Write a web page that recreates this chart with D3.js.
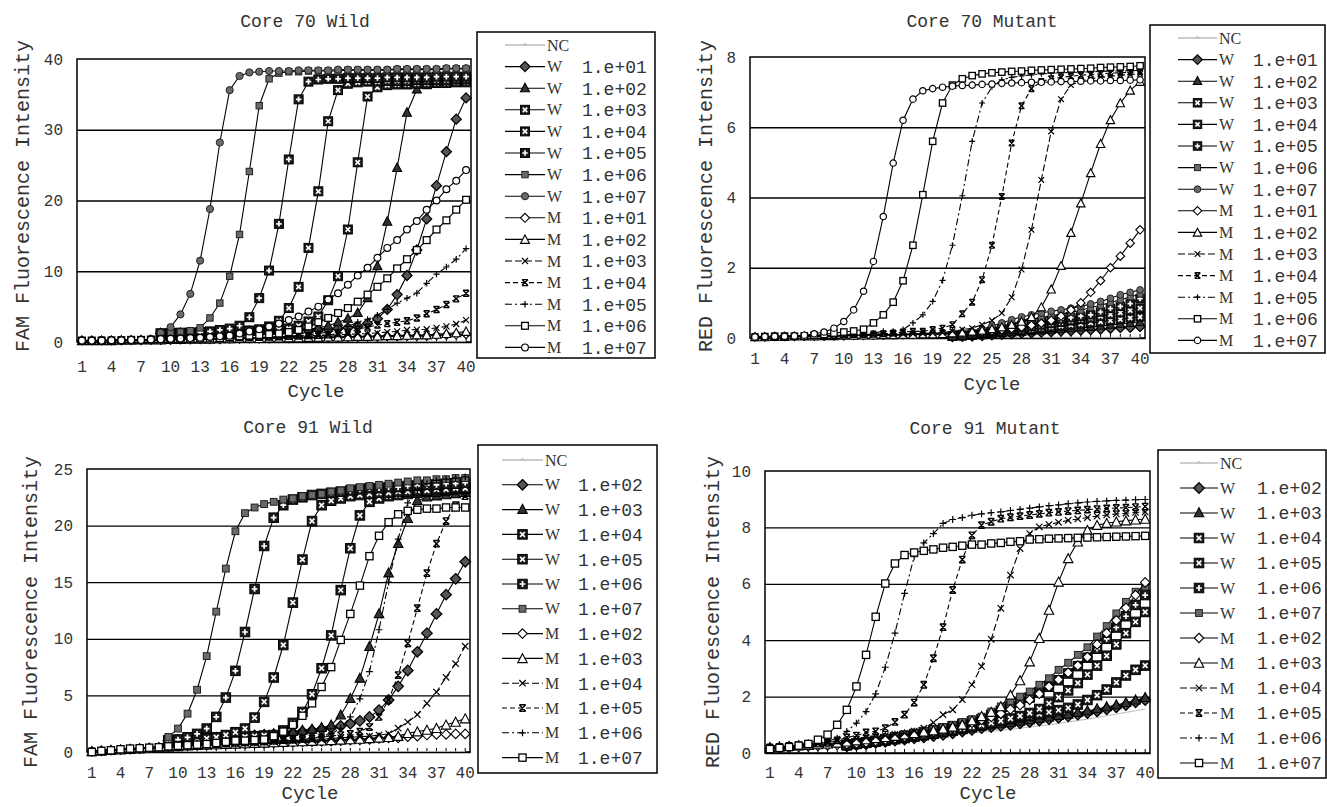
<!DOCTYPE html>
<html lang="en">
<head>
<meta charset="utf-8">
<title>Core 70 / Core 91 amplification curves</title>
<script src="https://cdn.jsdelivr.net/npm/d3@7"></script>
<style>
  body { margin: 0; background: #fff; }
  svg { display: block; }
</style>
</head>
<body>
<script>
var n = null;
var MONO = "'Liberation Mono', 'DejaVu Sans Mono', monospace";
var SERIF = "'Liberation Serif', 'DejaVu Serif', serif";

var cycles = [1,2,3,4,5,6,7,8,9,10,11,12,13,14,15,16,17,18,19,20,
              21,22,23,24,25,26,27,28,29,30,31,32,33,34,35,36,37,38,39,40];
var cycleLabels = [1,4,7,10,13,16,19,22,25,28,31,34,37,40];

var ticksA = [0,10,20,30,40];
var ticksB = [0,2,4,6,8];
var ticksC = [0,5,10,15,20,25];
var ticksD = [0,2,4,6,8,10];

// legend rows
var groups70 = ["NC","W","W","W","W","W","W","W","M","M","M","M","M","M","M"];
var values70 = ["","1.e+01","1.e+02","1.e+03","1.e+04","1.e+05","1.e+06","1.e+07",
                "1.e+01","1.e+02","1.e+03","1.e+04","1.e+05","1.e+06","1.e+07"];
var markers70 = ["nc","fdia","ftri","sqx","sqx","sqp","gsq","gcir","odia","otri","x","star","plus","osq","ocir"];
var groups91 = ["NC","W","W","W","W","W","W","M","M","M","M","M","M"];
var values91 = ["","1.e+02","1.e+03","1.e+04","1.e+05","1.e+06","1.e+07",
                "1.e+02","1.e+03","1.e+04","1.e+05","1.e+06","1.e+07"];
var markers91 = ["nc","fdia","ftri","sqx","sqx","sqp","gsq","odia","otri","x","star","plus","osq"];

// ---- Core 70 Wild (FAM) ----
var a_nc = [0.1,0.1,0.1,0.1,0.1,0.1,0.1,0.1,0.1,0.1,0.1,0.1,0.1,0.1,0.1,0.1,0.1,0.1,0.1,0.1,
            0.1,0.1,0.1,0.1,0.1,0.1,0.1,0.1,0.1,0.1,0.1,0.1,0.1,0.1,0.1,0.1,0.1,0.1,0.1,0.1];
var a_w01 = [n,n,n,n,n,n,n,n,1.2,1.2,
  1.25,1.3,1.3,1.35,1.4,1.4,1.45,1.5,1.5,1.55,
  1.6,1.6,1.65,1.7,1.75,1.8,1.9,2.0,2.2,2.6,
  3.3,4.6,6.7,9.4,13.0,17.4,22.1,26.9,31.5,34.5];
var a_w02 = [n,n,n,n,n,n,n,n,1.2,1.2,
  1.25,1.3,1.3,1.35,1.4,1.45,1.5,1.5,1.55,1.6,
  1.65,1.7,1.75,1.8,2.0,2.3,2.8,3.3,4.1,6.2,
  10.7,17.0,24.6,32.4,35.7,36.3,36.5,36.6,36.7,36.8];
var a_w03 = [n,n,n,n,n,n,n,n,1.2,1.25,
  1.3,1.3,1.35,1.4,1.45,1.5,1.55,1.6,1.65,1.7,
  1.8,1.9,2.3,2.9,3.6,5.9,9.3,15.9,25.4,34.7,
  36.0,36.3,36.4,36.4,36.5,36.5,36.6,36.6,36.7,36.7];
var a_w04 = [n,n,n,n,n,n,n,n,1.2,1.2,
  1.25,1.3,1.3,1.35,1.4,1.45,1.5,1.6,1.8,2.2,
  3.0,4.8,7.8,13.3,21.3,31.2,35.6,36.5,36.7,36.8,
  36.8,36.9,36.9,36.9,37.0,37.0,37.0,37.0,37.1,37.1];
var a_w05 = [n,n,n,n,n,n,n,n,1.2,1.2,
  1.3,1.3,1.4,1.5,1.7,1.9,2.3,3.5,6.2,10.1,
  16.7,25.8,34.3,36.8,37.1,37.2,37.2,37.3,37.3,37.3,
  37.3,37.4,37.4,37.4,37.4,37.4,37.5,37.5,37.5,37.5];
var a_w06 = [n,n,n,n,n,n,n,n,1.2,1.3,
  1.4,1.6,2.0,3.4,5.5,9.3,15.2,24.1,33.4,37.2,
  38.0,38.2,38.2,38.3,38.3,38.3,38.3,38.4,38.4,38.4,
  38.4,38.4,38.5,38.5,38.5,38.5,38.5,38.6,38.6,38.6];
var a_w07 = [n,n,n,n,n,n,n,n,1.3,2.1,
  3.9,6.8,11.5,18.8,28.2,35.6,37.6,38.1,38.2,38.3,
  38.3,38.3,38.4,38.4,38.4,38.4,38.5,38.5,38.5,38.5,
  38.5,38.5,38.6,38.6,38.6,38.6,38.6,38.7,38.7,38.7];
var a_m01 = [0.2,0.2,0.2,0.2,0.2,0.25,0.25,0.3,0.3,0.3,
  0.35,0.35,0.4,0.4,0.4,0.45,0.45,0.5,0.5,0.5,
  0.55,0.55,0.6,0.6,0.6,0.65,0.65,0.7,0.7,0.75,
  0.75,0.8,0.8,0.85,0.85,0.9,0.95,1.0,1.05,1.1];
var a_m02 = [0.2,0.2,0.2,0.2,0.25,0.25,0.3,0.3,0.3,0.35,
  0.35,0.4,0.4,0.4,0.45,0.45,0.5,0.5,0.5,0.55,
  0.55,0.6,0.6,0.65,0.65,0.7,0.7,0.75,0.8,0.8,
  0.85,0.9,0.9,0.95,1.0,1.0,1.1,1.2,1.3,1.5];
var a_m03 = [0.2,0.2,0.2,0.25,0.25,0.3,0.3,0.3,0.35,0.35,
  0.4,0.4,0.45,0.45,0.5,0.5,0.55,0.6,0.6,0.65,
  0.7,0.75,0.8,0.85,0.9,0.95,1.0,1.1,1.15,1.2,
  1.3,1.4,1.5,1.7,1.75,1.8,2.0,2.2,2.55,3.1];
var a_m04 = [0.2,0.2,0.25,0.25,0.3,0.3,0.3,0.35,0.35,0.4,
  0.4,0.45,0.45,0.5,0.5,0.55,0.6,0.6,0.65,0.7,
  0.75,0.8,0.85,0.9,0.95,1.0,1.2,1.4,1.8,2.1,
  2.4,2.6,2.8,3.0,3.4,4.0,4.6,5.3,6.1,6.9];
var a_m05 = [0.2,0.2,0.25,0.25,0.3,0.3,0.35,0.35,0.4,0.4,
  0.45,0.45,0.5,0.5,0.55,0.55,0.6,0.6,0.65,0.7,
  0.75,0.8,0.9,1.0,1.2,1.4,1.7,2.2,2.8,3.2,
  3.8,4.6,5.5,6.2,6.9,8.3,9.6,10.6,11.7,13.2];
var a_m06 = [0.2,0.2,0.2,0.2,0.25,0.3,0.3,0.35,0.4,0.4,
  0.45,0.45,0.5,0.5,0.55,0.7,0.8,0.9,1.0,1.1,
  1.2,1.4,1.7,2.2,2.8,3.4,4.1,4.8,5.7,6.7,
  7.8,9.0,10.4,11.7,13.0,14.4,15.9,17.2,18.7,20.1];
var a_m07 = [0.2,0.2,0.2,0.25,0.25,0.3,0.3,0.35,0.4,0.45,
  0.5,0.55,0.6,0.7,0.8,0.9,1.2,1.5,1.8,2.2,
  2.6,3.1,3.6,4.3,5.0,6.0,6.9,8.1,9.4,10.5,
  11.9,13.3,14.4,15.9,17.1,18.7,20.0,21.6,22.8,24.3];

// ---- Core 70 Mutant (RED) ----
var b_nc = [0.02,0.02,0.02,0.02,0.02,0.02,0.02,0.02,0.02,0.02,0.02,0.02,0.02,0.02,0.02,0.02,0.02,0.02,0.02,0.02,
            0.02,0.02,0.02,0.02,0.02,0.02,0.02,0.02,0.02,0.02,0.02,0.02,0.02,0.02,0.02,0.02,0.02,0.02,0.02,0.02];
var b_w01 = [n,n,n,n,n,n,n,n,n,n,n,n,n,n,n,n,n,n,n,n,
  0.03,0.04,0.05,0.06,0.08,0.1,0.11,0.13,0.14,0.16,
  0.17,0.19,0.2,0.22,0.23,0.25,0.27,0.29,0.3,0.32];
var b_w02 = [n,n,n,n,n,n,n,n,n,n,n,n,n,n,n,n,n,n,n,n,
  0.04,0.05,0.07,0.09,0.11,0.13,0.15,0.17,0.19,0.21,
  0.23,0.25,0.27,0.29,0.31,0.34,0.37,0.4,0.42,0.45];
var b_w03 = [n,n,n,n,n,n,n,n,n,n,n,n,n,n,n,n,n,n,n,n,
  0.05,0.06,0.08,0.1,0.13,0.16,0.19,0.22,0.25,0.28,
  0.31,0.34,0.37,0.4,0.43,0.46,0.5,0.53,0.57,0.6];
var b_w04 = [n,n,n,n,n,n,n,n,n,n,n,n,n,n,n,n,n,n,n,n,
  0.05,0.07,0.1,0.13,0.17,0.21,0.25,0.29,0.33,0.37,
  0.41,0.45,0.49,0.53,0.57,0.62,0.67,0.72,0.78,0.85];
var b_w05 = [n,n,n,n,n,n,n,n,n,n,n,n,n,n,n,n,n,n,n,n,
  0.06,0.08,0.11,0.15,0.2,0.26,0.31,0.36,0.41,0.46,
  0.5,0.54,0.58,0.62,0.66,0.74,0.84,0.9,0.98,1.12];
var b_w06 = [n,n,n,n,n,n,n,n,n,n,n,n,n,n,n,n,n,n,n,n,
  0.06,0.09,0.13,0.19,0.26,0.33,0.4,0.47,0.53,0.58,
  0.63,0.68,0.73,0.79,0.86,0.93,1.01,1.09,1.17,1.25];
var b_w07 = [n,n,n,n,n,n,n,n,n,n,n,n,n,n,n,n,n,n,n,n,
  0.08,0.1,0.17,0.25,0.34,0.43,0.52,0.6,0.66,0.71,
  0.76,0.8,0.85,0.9,0.97,1.04,1.13,1.23,1.3,1.37];
var b_m01 = [0.03,0.03,0.04,0.04,0.04,0.05,0.05,0.05,0.06,0.06,
  0.07,0.07,0.08,0.08,0.09,0.09,0.1,0.1,0.11,0.12,
  0.13,0.14,0.16,0.18,0.2,0.23,0.27,0.31,0.36,0.42,
  0.5,0.62,0.8,1.0,1.3,1.63,2.0,2.33,2.7,3.08];
var b_m02 = [0.03,0.03,0.04,0.04,0.05,0.05,0.05,0.06,0.06,0.07,
  0.07,0.08,0.08,0.09,0.09,0.1,0.1,0.11,0.11,0.12,
  0.14,0.16,0.19,0.22,0.26,0.31,0.38,0.47,0.6,0.88,
  1.39,2.06,3.0,3.84,4.7,5.53,6.21,6.69,7.05,7.3];
var b_m03 = [0.04,0.04,0.04,0.05,0.05,0.05,0.06,0.06,0.07,0.07,
  0.08,0.08,0.09,0.1,0.1,0.11,0.12,0.13,0.14,0.15,
  0.19,0.24,0.28,0.38,0.5,0.71,1.16,1.95,3.08,4.5,
  5.88,6.8,7.2,7.32,7.38,7.42,7.45,7.48,7.5,7.52];
var b_m04 = [0.04,0.04,0.05,0.05,0.05,0.06,0.06,0.07,0.07,0.08,
  0.09,0.1,0.11,0.12,0.14,0.17,0.19,0.19,0.24,0.28,
  0.38,0.69,1.02,1.66,2.64,4.03,5.55,6.61,7.1,7.3,
  7.38,7.42,7.45,7.48,7.5,7.52,7.54,7.55,7.57,7.58];
var b_m05 = [0.04,0.05,0.05,0.05,0.06,0.06,0.07,0.08,0.09,0.1,
  0.11,0.12,0.14,0.19,0.19,0.24,0.43,0.66,1.04,1.64,
  2.64,4.05,5.6,6.69,7.15,7.35,7.42,7.46,7.49,7.52,
  7.54,7.55,7.56,7.57,7.58,7.59,7.6,7.6,7.61,7.62];
var b_m06 = [0.02,0.04,0.05,0.05,0.05,0.06,0.08,0.1,0.14,0.17,
  0.2,0.25,0.43,0.66,1.02,1.63,2.64,4.08,5.6,6.69,
  7.2,7.38,7.47,7.52,7.55,7.57,7.59,7.6,7.62,7.63,
  7.64,7.65,7.66,7.67,7.68,7.7,7.71,7.72,7.73,7.75];
var b_m07 = [0.03,0.04,0.05,0.05,0.06,0.08,0.12,0.17,0.28,0.47,
  0.8,1.33,2.18,3.46,4.98,6.2,6.8,7.04,7.1,7.14,
  7.17,7.19,7.2,7.22,7.23,7.25,7.26,7.27,7.28,7.28,
  7.29,7.3,7.3,7.31,7.32,7.32,7.33,7.33,7.34,7.35];

// ---- Core 91 Wild (FAM) ----
var c_nc = [0.05,0.05,0.05,0.05,0.05,0.05,0.05,0.05,0.05,0.05,0.05,0.05,0.05,0.05,0.05,0.05,0.05,0.05,0.05,0.05,
            0.05,0.05,0.05,0.05,0.05,0.05,0.05,0.05,0.05,0.05,0.05,0.05,0.05,0.05,0.05,0.05,0.05,0.05,0.05,0.05];
var c_w02 = [n,n,n,n,n,n,n,n,1.0,1.05,
  1.1,1.15,1.2,1.25,1.3,1.35,1.4,1.45,1.5,1.55,
  1.6,1.7,1.8,1.9,2.0,2.15,2.3,2.5,2.75,3.1,
  3.7,4.6,5.8,7.2,8.85,10.5,12.2,13.9,15.3,16.8];
var c_w03 = [n,n,n,n,n,n,n,n,1.0,1.05,
  1.1,1.15,1.2,1.25,1.3,1.35,1.4,1.45,1.5,1.6,
  1.7,1.8,1.9,2.0,2.15,2.36,3.25,4.7,6.5,9.3,
  12.2,15.8,18.4,20.6,22.2,22.5,22.6,22.7,22.8,22.9];
var c_w04 = [n,n,n,n,n,n,n,n,1.0,1.05,
  1.1,1.15,1.2,1.25,1.3,1.3,1.35,1.4,1.45,1.5,
  1.9,2.57,3.54,5.1,7.4,10.3,14.3,18.0,20.9,22.1,
  22.4,22.6,22.7,22.8,22.9,23.0,23.0,23.1,23.2,23.3];
var c_w05 = [n,n,n,n,n,n,n,n,1.0,1.05,
  1.1,1.15,1.2,1.3,1.5,1.75,2.07,3.04,4.43,6.58,
  9.45,13.2,17.0,20.4,21.8,22.2,22.4,22.6,22.7,22.8,
  22.9,22.9,23.0,23.0,23.1,23.1,23.2,23.2,23.3,23.3];
var c_w06 = [n,n,n,n,n,n,n,n,1.0,1.1,
  1.3,1.6,2.07,3.1,4.81,7.17,10.6,14.4,18.2,20.7,
  21.8,22.3,22.5,22.7,22.8,22.9,23.0,23.1,23.2,23.3,
  23.3,23.4,23.4,23.5,23.5,23.6,23.6,23.7,23.7,23.8];
var c_w07 = [n,n,n,n,n,n,n,n,1.33,2.07,
  3.39,5.5,8.47,12.4,16.2,19.5,21.1,21.6,21.9,22.1,
  22.3,22.4,22.6,22.7,22.8,23.0,23.1,23.3,23.4,23.5,
  23.6,23.7,23.8,23.9,24.0,24.0,24.1,24.1,24.2,24.2];
var c_m02 = [0.05,0.1,0.15,0.2,0.25,0.3,0.35,0.4,0.45,0.5,
  0.55,0.6,0.62,0.65,0.68,0.7,0.72,0.75,0.78,0.8,
  0.82,0.85,0.88,0.9,0.93,0.96,1.0,1.03,1.07,1.1,
  1.2,1.25,1.25,1.35,1.4,1.5,1.55,1.55,1.6,1.6];
var c_m03 = [0.05,0.1,0.15,0.2,0.25,0.3,0.35,0.4,0.45,0.5,
  0.55,0.6,0.63,0.66,0.69,0.72,0.75,0.78,0.81,0.84,
  0.87,0.9,0.93,0.96,1.0,1.03,1.07,1.1,1.15,1.2,
  1.25,1.3,1.4,1.65,1.8,1.95,2.1,2.4,2.65,2.95];
var c_m04 = [0.05,0.1,0.15,0.2,0.25,0.3,0.35,0.4,0.45,0.5,
  0.55,0.6,0.64,0.68,0.72,0.76,0.8,0.84,0.88,0.92,
  0.96,1.0,1.03,1.06,1.1,1.2,1.25,1.3,1.35,1.4,
  1.5,1.6,2.1,2.65,3.3,4.3,5.3,6.6,7.8,9.35];
var c_m05 = [0.05,0.1,0.15,0.2,0.25,0.3,0.35,0.4,0.45,0.5,
  0.55,0.6,0.65,0.7,0.75,0.8,0.85,0.9,0.95,1.0,
  1.05,1.1,1.15,1.2,1.3,1.4,1.5,1.6,1.8,2.2,
  3.1,4.6,6.8,9.6,12.7,15.8,18.4,20.4,21.8,22.6];
var c_m06 = [0.1,0.15,0.2,0.25,0.3,0.35,0.4,0.45,0.5,0.55,
  0.6,0.62,0.65,0.68,0.7,0.72,0.75,0.8,0.85,0.9,
  1.0,1.0,1.1,1.2,1.4,1.6,2.1,3.1,4.7,7.1,
  10.8,15.0,18.8,22.0,23.2,23.7,24.0,24.1,24.2,24.3];
var c_m07 = [0.0,0.1,0.15,0.24,0.3,0.33,0.38,0.42,0.5,0.55,
  0.6,0.65,0.7,0.8,0.9,1.0,1.0,1.05,1.1,1.4,
  1.8,2.4,3.2,4.3,5.75,7.5,9.9,12.2,14.7,17.3,
  19.1,20.3,21.0,21.3,21.4,21.5,21.5,21.6,21.6,21.6];

// ---- Core 91 Mutant (RED) ----
var d_nc = [0.15,0.17,0.2,0.22,0.25,0.27,0.3,0.32,0.35,0.37,
  0.4,0.43,0.45,0.48,0.5,0.53,0.56,0.59,0.62,0.65,
  0.68,0.71,0.74,0.77,0.8,0.84,0.88,0.92,0.96,1.0,
  1.05,1.1,1.15,1.2,1.26,1.32,1.38,1.44,1.5,1.56];
var d_w02 = [n,n,n,n,n,n,n,n,0.24,0.28,
  0.32,0.36,0.4,0.44,0.48,0.52,0.56,0.6,0.64,0.7,
  0.76,0.82,0.88,0.92,0.96,1.0,1.05,1.1,1.15,1.2,
  1.25,1.3,1.36,1.42,1.48,1.55,1.62,1.7,1.8,1.88];
var d_w03 = [n,n,n,n,n,n,n,n,0.26,0.3,
  0.34,0.38,0.42,0.46,0.5,0.55,0.6,0.65,0.7,0.76,
  0.82,0.88,0.94,0.99,1.03,1.07,1.12,1.17,1.22,1.27,
  1.32,1.37,1.43,1.49,1.56,1.63,1.7,1.78,1.87,1.96];
var d_w04 = [n,n,n,n,n,n,n,n,0.28,0.32,
  0.36,0.4,0.45,0.5,0.55,0.6,0.65,0.7,0.76,0.82,
  0.88,0.95,1.02,1.08,1.14,1.2,1.26,1.32,1.38,1.45,
  1.52,1.6,1.72,1.88,2.05,2.25,2.5,2.75,2.95,3.1];
var d_w05 = [n,n,n,n,n,n,n,n,0.28,0.33,
  0.38,0.42,0.46,0.5,0.55,0.6,0.65,0.7,0.76,0.82,
  0.88,0.94,1.0,1.07,1.14,1.22,1.31,1.42,1.56,1.76,
  1.98,2.22,2.48,2.78,3.1,3.45,3.85,4.25,4.65,5.0];
var d_w06 = [n,n,n,n,n,n,n,n,0.28,0.33,
  0.38,0.43,0.49,0.55,0.61,0.67,0.74,0.8,0.87,0.95,
  1.03,1.12,1.2,1.35,1.5,1.65,1.8,1.97,2.15,2.35,
  2.58,2.82,3.08,3.38,3.7,4.05,4.45,4.85,5.25,5.6];
var d_w07 = [n,n,n,n,n,n,n,n,0.3,0.35,
  0.4,0.46,0.52,0.58,0.64,0.7,0.77,0.84,0.92,1.0,
  1.1,1.2,1.29,1.47,1.65,1.83,2.0,2.18,2.42,2.65,
  2.95,3.2,3.48,3.75,4.13,4.5,4.95,5.36,5.72,5.9];
var d_m02 = [0.15,0.17,0.19,0.21,0.23,0.25,0.27,0.29,0.31,0.34,
  0.38,0.42,0.47,0.52,0.57,0.63,0.69,0.75,0.82,0.9,
  0.98,1.07,1.17,1.28,1.4,1.55,1.7,1.88,2.1,2.35,
  2.6,2.85,3.1,3.4,3.85,4.25,4.7,5.15,5.6,6.05];
var d_m03 = [0.2,0.22,0.24,0.26,0.28,0.3,0.33,0.36,0.4,0.44,
  0.48,0.52,0.56,0.6,0.65,0.7,0.75,0.8,0.86,0.93,
  1.0,1.15,1.3,1.45,1.65,2.06,2.57,3.24,4.07,5.07,
  6.07,6.9,7.49,7.9,8.08,8.15,8.2,8.24,8.27,8.3];
var d_m04 = [0.2,0.22,0.25,0.28,0.31,0.34,0.38,0.42,0.46,0.5,
  0.54,0.58,0.62,0.66,0.7,0.78,0.88,1.08,1.36,1.53,
  1.89,2.42,3.07,4.03,5.13,6.31,7.25,7.78,8.02,8.1,
  8.18,8.25,8.3,8.35,8.4,8.44,8.48,8.5,8.53,8.55];
var d_m05 = [0.2,0.22,0.25,0.28,0.3,0.33,0.36,0.45,0.55,0.62,
  0.73,0.77,0.88,1.1,1.36,1.79,2.42,3.36,4.46,5.78,
  6.86,7.72,8.08,8.2,8.31,8.36,8.4,8.44,8.48,8.52,
  8.55,8.58,8.6,8.63,8.65,8.67,8.69,8.7,8.72,8.74];
var d_m06 = [0.25,0.28,0.3,0.33,0.36,0.39,0.41,0.53,0.77,1.06,
  1.47,2.1,3.04,4.25,5.66,6.96,7.45,7.78,8.14,8.28,
  8.35,8.43,8.48,8.52,8.55,8.6,8.64,8.68,8.73,8.77,
  8.8,8.84,8.87,8.9,8.92,8.94,8.96,8.97,8.98,8.99];
var d_m07 = [0.14,0.18,0.21,0.26,0.32,0.47,0.65,1.0,1.53,2.36,
  3.48,4.83,6.01,6.72,7.02,7.11,7.17,7.22,7.28,7.31,
  7.35,7.39,7.39,7.43,7.45,7.49,7.51,7.57,7.58,7.6,
  7.61,7.62,7.63,7.64,7.65,7.66,7.67,7.68,7.69,7.7];

var panels = [
  { title: "Core 70 Wild", ylab: "FAM Fluorescence Intensity", yMax: 40, yTicks: ticksA,
    series: [a_nc,a_w01,a_w02,a_w03,a_w04,a_w05,a_w06,a_w07,a_m01,a_m02,a_m03,a_m04,a_m05,a_m06,a_m07],
    markers: markers70, groups: groups70, values: values70,
    l: 77, r: 471, t: 59, b: 342, ms: 8, xlabY: 372, titleX: 305, titleY: 27, cycX: 316, cycY: 397,
    ylabX: 29, ylabY: 196,
    leg: { x0: 477, y0: 32, x1: 655, y1: 358, row0: 45, step: 21.6, lx0: 505, lx1: 545, gx: 547, vx: 582 } },
  { title: "Core 70 Mutant", ylab: "RED Fluorescence Intensity", yMax: 8, yTicks: ticksB,
    series: [b_nc,b_w01,b_w02,b_w03,b_w04,b_w05,b_w06,b_w07,b_m01,b_m02,b_m03,b_m04,b_m05,b_m06,b_m07],
    markers: markers70, groups: groups70, values: values70,
    l: 750, r: 1145, t: 57, b: 338, ms: 7.5, xlabY: 364, titleX: 982, titleY: 27, cycX: 992, cycY: 390,
    ylabX: 712, ylabY: 196,
    leg: { x0: 1150, y0: 25, x1: 1325, y1: 353, row0: 38, step: 21.6, lx0: 1178, lx1: 1217, gx: 1219, vx: 1253 } },
  { title: "Core 91 Wild", ylab: "FAM Fluorescence Intensity", yMax: 25, yTicks: ticksC,
    series: [c_nc,c_w02,c_w03,c_w04,c_w05,c_w06,c_w07,c_m02,c_m03,c_m04,c_m05,c_m06,c_m07],
    markers: markers91, groups: groups91, values: values91,
    l: 87, r: 470, t: 469, b: 752, ms: 8.5, xlabY: 778, titleX: 308, titleY: 433, cycX: 310, cycY: 799,
    ylabX: 37, ylabY: 612,
    leg: { x0: 478, y0: 445, x1: 657, y1: 773, row0: 460, step: 24.8, lx0: 502, lx1: 543, gx: 545, vx: 578 } },
  { title: "Core 91 Mutant", ylab: "RED Fluorescence Intensity", yMax: 10, yTicks: ticksD,
    series: [d_nc,d_w02,d_w03,d_w04,d_w05,d_w06,d_w07,d_m02,d_m03,d_m04,d_m05,d_m06,d_m07],
    markers: markers91, groups: groups91, values: values91,
    l: 765, r: 1150, t: 471, b: 753, ms: 8.5, xlabY: 778, titleX: 985, titleY: 434, cycX: 988, cycY: 799,
    ylabX: 719, ylabY: 612,
    leg: { x0: 1158, y0: 450, x1: 1326, y1: 778, row0: 463, step: 25, lx0: 1180, lx1: 1218, gx: 1220, vx: 1257 } }
];

var svg = d3.select("body").append("svg")
  .attr("width", 1327).attr("height", 807);

function dashFor(type) {
  if (type === "x") return "7,3";
  if (type === "star") return "5,3";
  if (type === "plus") return "7,3,2,3";
  return null;
}

// draw one marker centred at 0,0 inside g
function marker(g, type, s) {
  var h = s / 2;
  if (type === "nc") {
    g.append("path").attr("d", "M-2,1L0,-2L2,1").attr("fill", "none").attr("stroke", "#bbb");
  } else if (type === "fdia") {
    g.append("path").attr("d", "M0," + (-h - 1) + "L" + (h + 1) + ",0L0," + (h + 1) + "L" + (-h - 1) + ",0Z")
      .attr("fill", "#555").attr("stroke", "#000").attr("stroke-width", 1.3);
  } else if (type === "ftri") {
    g.append("path").attr("d", "M0," + (-h - 1) + "L" + (h + 0.5) + "," + (h - 0.5) + "L" + (-h - 0.5) + "," + (h - 0.5) + "Z")
      .attr("fill", "#333").attr("stroke", "#000").attr("stroke-width", 1.1);
  } else if (type === "sqx" || type === "sqp") {
    var k = h * 1.12;
    g.append("rect").attr("x", -k).attr("y", -k).attr("width", 2 * k).attr("height", 2 * k)
      .attr("fill", "#1a1a1a").attr("stroke", "#000");
    var c = k * 0.5;
    var d = type === "sqx"
      ? "M" + (-c) + "," + (-c) + "L" + c + "," + c + "M" + c + "," + (-c) + "L" + (-c) + "," + c
      : "M" + (-c - 0.5) + ",0L" + (c + 0.5) + ",0M0," + (-c - 0.5) + "L0," + (c + 0.5);
    g.append("path").attr("d", d).attr("stroke", "#fff").attr("stroke-width", 1.7);
  } else if (type === "gsq") {
    var q = h * 0.8;
    g.append("rect").attr("x", -q).attr("y", -q).attr("width", 2 * q).attr("height", 2 * q)
      .attr("fill", "#6a6a6a").attr("stroke", "#222");
  } else if (type === "gcir") {
    g.append("circle").attr("r", h * 0.9).attr("fill", "#6a6a6a").attr("stroke", "#222");
  } else if (type === "odia") {
    g.append("path").attr("d", "M0," + (-h - 0.5) + "L" + (h + 0.5) + ",0L0," + (h + 0.5) + "L" + (-h - 0.5) + ",0Z")
      .attr("fill", "#fff").attr("stroke", "#000").attr("stroke-width", 1.1);
  } else if (type === "otri") {
    g.append("path").attr("d", "M0," + (-h - 0.5) + "L" + (h + 0.5) + "," + h + "L" + (-h - 0.5) + "," + h + "Z")
      .attr("fill", "#fff").attr("stroke", "#000").attr("stroke-width", 1.1);
  } else if (type === "x") {
    var e = h * 0.75;
    g.append("path").attr("d", "M" + (-e) + "," + (-e) + "L" + e + "," + e + "M" + e + "," + (-e) + "L" + (-e) + "," + e)
      .attr("stroke", "#000").attr("stroke-width", 1.2);
  } else if (type === "star") {
    var f = h * 0.75;
    g.append("path").attr("d", "M" + (-f) + "," + (-f) + "L" + f + "," + f + "M" + f + "," + (-f) + "L" + (-f) + "," + f +
        "M" + (-f) + "," + (-f) + "L" + f + "," + (-f) + "M" + (-f) + "," + f + "L" + f + "," + f)
      .attr("stroke", "#000").attr("stroke-width", 1.4);
  } else if (type === "plus") {
    var p = h * 0.8;
    g.append("path").attr("d", "M" + (-p) + ",0L" + p + ",0M0," + (-p) + "L0," + p)
      .attr("stroke", "#000").attr("stroke-width", 1.2);
  } else if (type === "osq") {
    var o = h * 0.85;
    g.append("rect").attr("x", -o).attr("y", -o).attr("width", 2 * o).attr("height", 2 * o)
      .attr("fill", "#fff").attr("stroke", "#000").attr("stroke-width", 1.3);
  } else if (type === "ocir") {
    g.append("circle").attr("r", h * 0.85).attr("fill", "#fff").attr("stroke", "#000").attr("stroke-width", 1.2);
  }
}

panels.forEach(function(p) {
  var x = d3.scaleBand().domain(cycles).range([p.l, p.r]);
  var y = d3.scaleLinear().domain([0, p.yMax]).range([p.b, p.t]);
  var bw = x.bandwidth();
  var cx = function(c) { return x(c) + bw / 2; };
  var g = svg.append("g");

  // horizontal gridlines
  var grid = g.append("g").attr("transform", "translate(" + p.l + ",0)")
    .call(d3.axisLeft(y).tickValues(p.yTicks.slice(1, -1)).tickSize(-(p.r - p.l)).tickFormat(""));
  grid.select(".domain").remove();
  grid.selectAll("line").attr("stroke", "#000").attr("stroke-width", 1.3);

  // y tick labels
  var ya = g.append("g").attr("transform", "translate(" + p.l + ",0)")
    .call(d3.axisLeft(y).tickValues(p.yTicks).tickSize(0).tickPadding(14));
  ya.select(".domain").remove();
  ya.attr("font-family", MONO).attr("font-size", 16);
  ya.selectAll("text").attr("fill", "#333");

  // x axis: inner ticks every cycle
  var xt = g.append("g").attr("transform", "translate(0," + p.b + ")")
    .call(d3.axisBottom(x).tickSizeInner(-4).tickSizeOuter(0).tickFormat(""));
  xt.selectAll("line").attr("stroke", "#000").attr("stroke-width", 1);
  xt.select(".domain").attr("stroke", "#000").attr("stroke-width", 1.3);

  // x labels every 3 cycles
  var xa = g.append("g").attr("transform", "translate(0," + p.b + ")")
    .call(d3.axisBottom(x).tickValues(cycleLabels).tickSize(0).tickPadding(0));
  xa.select(".domain").remove();
  xa.attr("font-family", MONO).attr("font-size", 16);
  xa.selectAll("text").attr("y", p.xlabY - p.b).attr("dy", null).attr("fill", "#333");

  // frame
  g.append("rect").attr("x", p.l).attr("y", p.t).attr("width", p.r - p.l).attr("height", p.b - p.t)
    .attr("fill", "none").attr("stroke", "#000").attr("stroke-width", 1.5);

  // series
  var line = d3.line()
    .defined(function(d) { return d.v !== null; })
    .x(function(d) { return cx(d.c); })
    .y(function(d) { return y(d.v); });

  p.series.forEach(function(vals, i) {
    var type = p.markers[i];
    var pts = cycles.map(function(c, j) { return { c: c, v: vals[j] }; });
    g.append("path").datum(pts)
      .attr("d", line)
      .attr("fill", "none")
      .attr("stroke", type === "nc" ? "#bbb" : "#000")
      .attr("stroke-width", type === "nc" ? 1 : 1.1)
      .attr("stroke-dasharray", dashFor(type));
    if (type === "nc") return;
    g.append("g").selectAll("g")
      .data(pts.filter(function(d) { return d.v !== null; }))
      .join("g")
      .attr("transform", function(d) { return "translate(" + cx(d.c) + "," + y(d.v) + ")"; })
      .each(function() { marker(d3.select(this), type, p.ms); });
  });

  // titles
  g.append("text").attr("x", p.titleX).attr("y", p.titleY).attr("text-anchor", "middle")
    .attr("font-family", MONO).attr("font-size", 18).attr("fill", "#333").text(p.title);
  g.append("text").attr("x", p.cycX).attr("y", p.cycY).attr("text-anchor", "middle")
    .attr("font-family", MONO).attr("font-size", 19).attr("fill", "#333").text("Cycle");
  g.append("text").attr("transform", "translate(" + p.ylabX + "," + p.ylabY + ") rotate(-90)")
    .attr("text-anchor", "middle").attr("font-family", MONO).attr("font-size", 20).attr("fill", "#333")
    .text(p.ylab);

  // legend
  var L = p.leg;
  g.append("rect").attr("x", L.x0).attr("y", L.y0).attr("width", L.x1 - L.x0).attr("height", L.y1 - L.y0)
    .attr("fill", "#fff").attr("stroke", "#000").attr("stroke-width", 1.5);
  p.groups.forEach(function(grp, i) {
    var ry = L.row0 + i * L.step;
    var type = p.markers[i];
    g.append("line").attr("x1", L.lx0).attr("x2", L.lx1).attr("y1", ry).attr("y2", ry)
      .attr("stroke", type === "nc" ? "#999" : "#000").attr("stroke-width", 1.1)
      .attr("stroke-dasharray", dashFor(type));
    var mg = g.append("g").attr("transform", "translate(" + ((L.lx0 + L.lx1) / 2) + "," + ry + ")");
    marker(mg, type, p.ms);
    g.append("text").attr("x", L.gx).attr("y", ry).attr("dy", "0.35em")
      .attr("font-family", SERIF).attr("font-size", 16).attr("fill", "#333").text(grp);
    if (p.values[i]) {
      g.append("text").attr("x", L.vx).attr("y", ry).attr("dy", "0.35em")
        .attr("font-family", MONO).attr("font-size", 18).attr("fill", "#333").text(p.values[i]);
    }
  });
});
</script>
</body>
</html>
